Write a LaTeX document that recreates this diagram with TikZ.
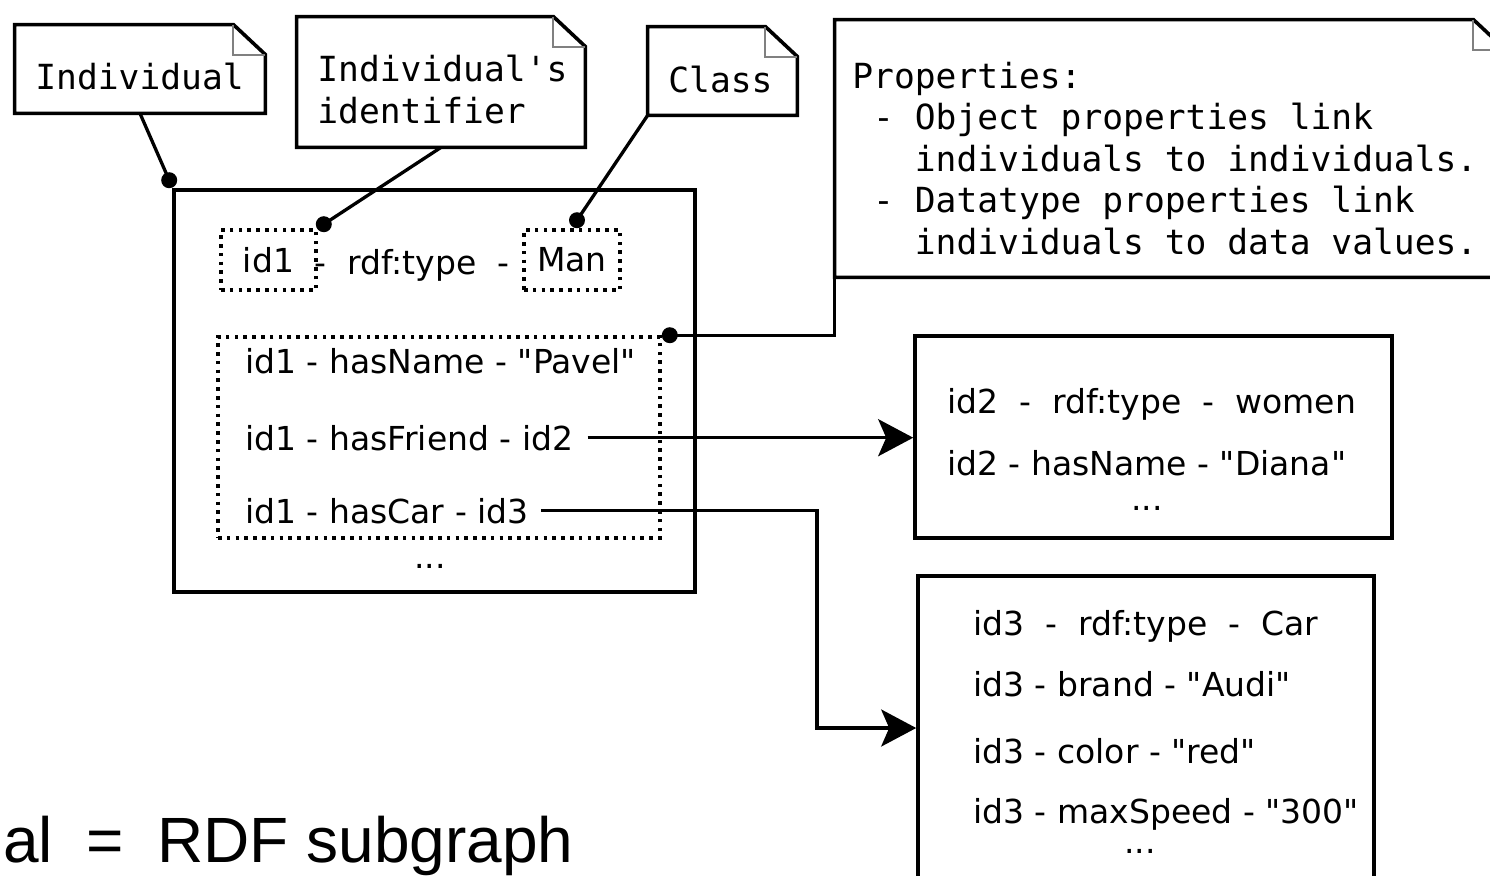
\documentclass[tikz,border=0pt]{standalone}
\usepackage{fontspec}
\newfontfamily\sansfnt{DejaVu Sans}[Ligatures=TeXOff]
\newfontfamily\monofnt{DejaVu Sans Mono}[Ligatures=TeXOff]
\newfontfamily\helvfnt{Liberation Sans}[Ligatures=TeXOff]
\usetikzlibrary{arrows.meta}

\tikzset{
  frame/.style={draw, line width=1.8pt, rectangle, inner sep=0pt},
  dotbox/.style={draw, line width=1.8pt, dash pattern=on 1.8pt off 2.6pt,
    rectangle, inner sep=0pt, font=\sansfnt\fontsize{16.5}{20}\selectfont},
  notebody/.style={rectangle, inner sep=0pt, draw=none},
  notetext/.style={inner sep=0pt, anchor=base west, align=left,
    font=\monofnt\fontsize{17.3}{20.75}\selectfont},
  triple/.style={inner sep=0pt, anchor=base west,
    font=\sansfnt\fontsize{16.5}{20}\selectfont},
  caption/.style={inner sep=0pt, font=\helvfnt\fontsize{32}{36}\selectfont},
  link/.style={line width=1.65pt},
  flow/.style={line width=1.65pt, -{Stealth[length=17.5pt, width=18.5pt, inset=4pt]}},
}

% dog-eared outline of a note node
\newcommand\dogear[1]{%
  \draw[line width=1.8pt, line join=miter]
    (#1.north west) -- ([xshift=-16pt]#1.north east)
    -- ([yshift=-15pt]#1.north east) -- (#1.south east)
    -- (#1.south west) -- cycle;
  \draw[gray, line width=1pt]
    ([xshift=-16pt]#1.north east) |- ([yshift=-15pt]#1.north east);
}

\begin{document}
\begin{tikzpicture}[x=0.5pt, y=-0.5pt]
\useasboundingbox (0,0) rectangle (1490,875);
\clip (0,0) rectangle (1490,875);

% notes
\node[notebody, minimum width=125pt, minimum height=44pt] (indnote) at (140,69) {};
\dogear{indnote}
\node[notetext] (indtext) at (35,89) {Individual};

\node[notebody, minimum width=144pt, minimum height=65pt] (idnote) at (441,82) {};
\dogear{idnote}
\node[notetext] (idtext) at (317,123) {Individual's\\identifier};

\node[notebody, minimum width=74.5pt, minimum height=44pt] (clsnote) at (722.5,71) {};
\dogear{clsnote}
\node[notetext] (clstext) at (668,92) {Class};

\node[notebody, minimum width=335pt, minimum height=128.5pt] (propnote) at (1170,148.5) {};
\dogear{propnote}
\node[notetext] (proptext) at (852,254) {Properties:\\
\phantom{x}-\ Object properties link\\
\phantom{xxx}individuals to individuals.\\
\phantom{x}-\ Datatype properties link\\
\phantom{xxx}individuals to data values.};

% the individual
\node[frame, minimum width=260.5pt, minimum height=201pt] (individual) at (434.5,391) {};
\node[dotbox, minimum width=47.5pt, minimum height=30pt] (subj) at (268.5,260) {id1};
\node[triple] (pred) at (314,274) {-\ \ rdf:type\ \ -};
\node[dotbox, minimum width=48pt, minimum height=30pt] (cls) at (572,260) {Man};

\node[dotbox, minimum width=221pt, minimum height=100.5pt] (facts) at (439,437.5) {};
\node[triple] (namerow) at (245,373) {id1 - hasName - "Pavel"};
\node[triple] (friendrow) at (245,450) {id1 - hasFriend - id2};
\node[triple] (carrow) at (245,523) {id1 - hasCar - id3};
\node[triple, anchor=base] (more1) at (430,568) {...};

% the friend
\node[frame, minimum width=238.5pt, minimum height=101pt] (friend) at (1153.5,437) {};
\node[triple] (f1) at (947,413) {id2\ \ -\ \ rdf:type\ \ -\ \ women};
\node[triple] (f2) at (947,475) {id2 - hasName - "Diana"};
\node[triple, anchor=base] (more2) at (1147,510) {...};

% the car
\node[frame, minimum width=228pt, minimum height=152pt] (car) at (1146,728) {};
\node[triple] (c1) at (973,635) {id3\ \ -\ \ rdf:type\ \ -\ \ Car};
\node[triple] (c2) at (973,696) {id3 - brand - "Audi"};
\node[triple] (c3) at (973,763) {id3 - color - "red"};
\node[triple] (c4) at (973,823) {id3 - maxSpeed - "300"};
\node[triple, anchor=base] (more3) at (1140,853) {...};

% note connectors, each ending in a pin
\coordinate (pinind) at ([xshift=-1.5pt, yshift=4pt]individual.north west);
\coordinate (pinsubj) at ([xshift=3pt, yshift=2pt]subj.north east);
\coordinate (pincls) at ([xshift=2.5pt, yshift=4pt]cls.north);
\coordinate (pinfacts) at ([xshift=4pt]facts.north east);
\draw[link] (indnote.south) -- (pinind);
\draw[link] (idnote.south) -- (pinsubj);
\draw[link] (clsnote.south west) -- (pincls);
\draw[link] (propnote.south west) |- (pinfacts);
\foreach \p in {pinind, pinsubj, pincls, pinfacts}
  \fill (\p) circle (4pt);

% object property links
\coordinate (bend) at (817,600);
\draw[flow] ([xshift=7pt]friendrow.east) -- (friendrow.east -| friend.west);
\draw[flow] ([xshift=6pt]carrow.east) -| (bend) |- (car.west);

% caption
\node[caption, anchor=base west] (lhs) at (3,862) {al};
\node[caption, anchor=base] (eq) at (105,862) {=};
\node[caption, anchor=base west] (rhs) at (157,862) {RDF subgraph};
\end{tikzpicture}
\end{document}
